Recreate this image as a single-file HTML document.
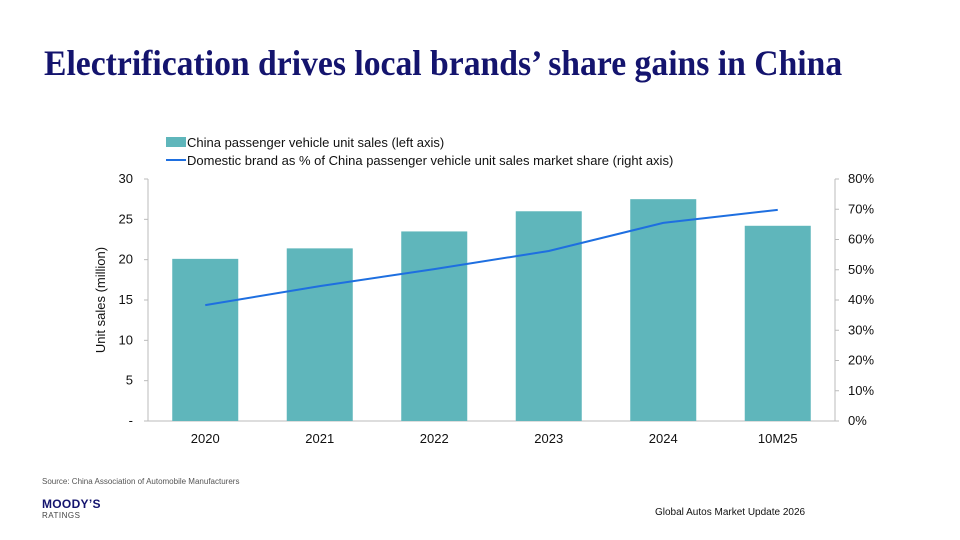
<!DOCTYPE html>
<html><head><meta charset="utf-8"><style>
body{margin:0;width:960px;height:540px;background:#fff;overflow:hidden;font-family:"Liberation Sans",sans-serif;position:relative}
h1{position:absolute;left:44px;top:42px;margin:0;font-family:"Liberation Serif",serif;font-weight:bold;font-size:36px;color:#14146e;transform:scaleX(0.935);transform-origin:0 0;white-space:nowrap}
.src{position:absolute;left:42px;top:477px;font-size:8px;color:#555}
.logo{position:absolute;left:42px;top:497px;font-size:12px;font-weight:900;color:#14146e;letter-spacing:0.3px}
.rat{position:absolute;left:42px;top:511px;font-size:8px;color:#444;letter-spacing:0.5px}
.foot{position:absolute;left:655px;top:507px;font-size:10px;color:#111}
</style></head><body>
<h1>Electrification drives local brands’ share gains in China</h1>
<svg id="c" width="960" height="540" style="position:absolute;left:0;top:0" font-family="Liberation Sans, sans-serif"></svg>
<div class="src">Source: China Association of Automobile Manufacturers</div>
<div class="logo">MOODY’S</div>
<div class="rat">RATINGS</div>
<div class="foot">Global Autos Market Update 2026</div>
<script>
const categories=["2020","2021","2022","2023","2024","10M25"];
const sales=[20.1,21.4,23.5,26.0,27.5,24.2];
const share=[38.3,44.6,50.2,56.2,65.5,69.8];
const leftTicks=["-","5","10","15","20","25","30"];
const rightTicks=["0%","10%","20%","30%","40%","50%","60%","70%","80%"];
const svg=document.getElementById('c');const NS="http://www.w3.org/2000/svg";
function mk(t,a,p){const e=document.createElementNS(NS,t);for(const k in a)e.setAttribute(k,a[k]);(p||svg).appendChild(e);return e;}
const X0=148,X1=835,Y0=421,Y1=179;
const bw=(X1-X0)/categories.length;
const xc=i=>X0+bw*(i+0.5);
const yl=v=>Y0-(v/30)*(Y0-Y1);
const yr=v=>Y0-(v/80)*(Y0-Y1);
let e;
e=mk('line',{x1:X0,y1:Y1,x2:X0,y2:Y0,stroke:'#bbb'});
e=mk('line',{x1:X1,y1:Y1,x2:X1,y2:Y0,stroke:'#bbb'});
e=mk('line',{x1:X0,y1:Y0,x2:X1,y2:Y0,stroke:'#bbb'});
leftTicks.forEach((t,i)=>{const y=yl(i*5);
 e=mk('line',{x1:X0-4,y1:y,x2:X0,y2:y,stroke:'#bbb'});
 e=mk('text',{x:133,y:y+4,'text-anchor':'end','font-size':13,fill:'#111'});e.textContent=t;});
rightTicks.forEach((t,i)=>{const y=yr(i*10);
 e=mk('line',{x1:X1,y1:y,x2:X1+4,y2:y,stroke:'#bbb'});
 e=mk('text',{x:848,y:y+4,'font-size':13,fill:'#111'});e.textContent=t;});
categories.forEach((c,i)=>{
 e=mk('rect',{x:xc(i)-33,y:yl(sales[i]),width:66,height:Y0-yl(sales[i]),fill:'#5fb6bb'});
 e=mk('text',{x:xc(i),y:443,'text-anchor':'middle','font-size':13,fill:'#111'});e.textContent=c;});
e=mk('polyline',{points:share.map((v,i)=>xc(i)+','+yr(v)).join(' '),fill:'none',stroke:'#1e6fe0','stroke-width':2});
e=mk('text',{x:0,y:0,transform:'translate(105,300) rotate(-90)','text-anchor':'middle','font-size':13,fill:'#111'});e.textContent='Unit sales (million)';
e=mk('rect',{x:166,y:137,width:20,height:10,fill:'#5fb6bb'});
e=mk('text',{x:187,y:147,'font-size':13,fill:'#111'});e.textContent='China passenger vehicle unit sales (left axis)';
e=mk('line',{x1:166,y1:160,x2:186,y2:160,stroke:'#1e6fe0','stroke-width':2});
e=mk('text',{x:187,y:165,'font-size':13,fill:'#111'});e.textContent='Domestic brand as % of China passenger vehicle unit sales market share (right axis)';
</script>
</body></html>
